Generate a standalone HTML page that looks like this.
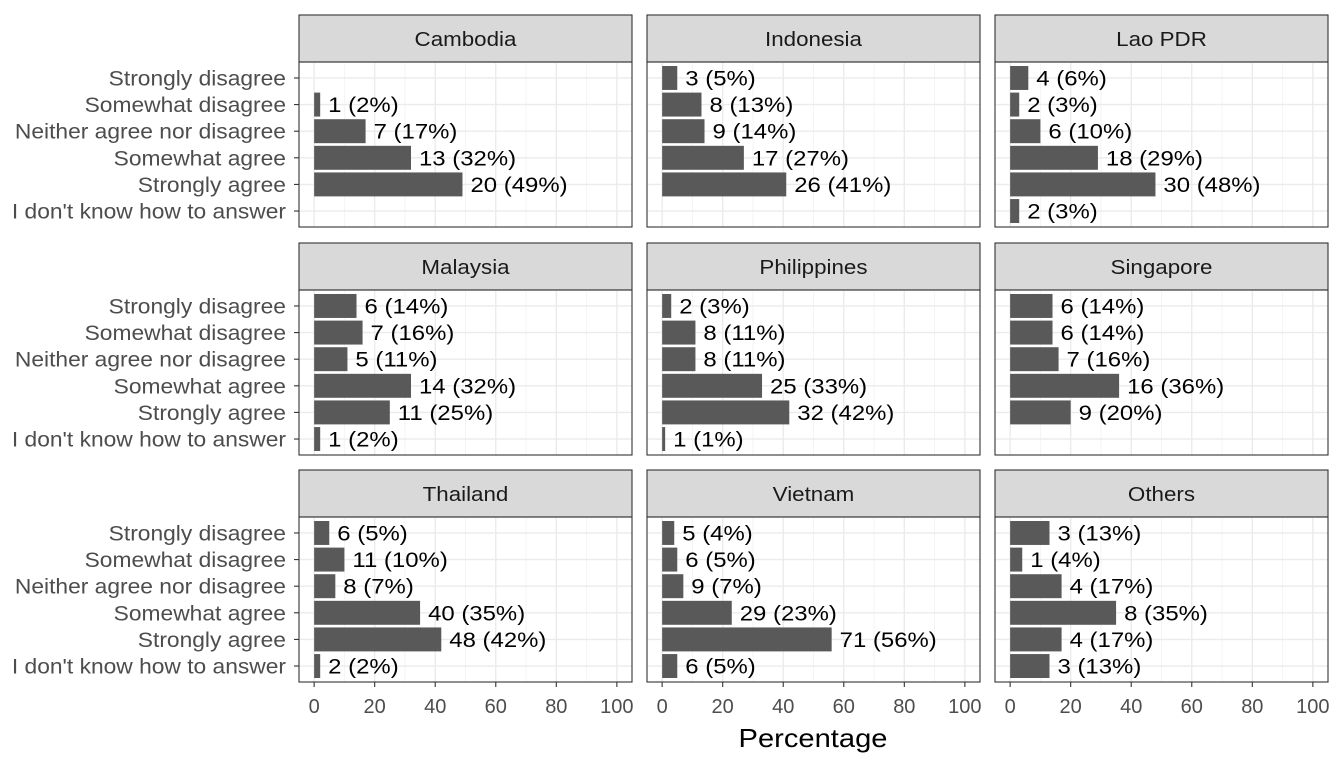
<!DOCTYPE html>
<html><head><meta charset="utf-8"><style>
html,body{margin:0;padding:0;background:#fff;}
svg{display:block;font-family:"Liberation Sans",Arial,sans-serif;}
</style></head><body>
<svg id="chart" width="1344" height="768" viewBox="0 0 1344 768"></svg>
<script>
const categories = ["Strongly disagree","Somewhat disagree","Neither agree nor disagree","Somewhat agree","Strongly agree","I don't know how to answer"];
const countries = ["Cambodia","Indonesia","Lao PDR","Malaysia","Philippines","Singapore","Thailand","Vietnam","Others"];
const counts = [
 [null,1,7,13,20,null],
 [3,8,9,17,26,null],
 [4,2,6,18,30,2],
 [6,7,5,14,11,1],
 [2,8,8,25,32,1],
 [6,6,7,16,9,null],
 [6,11,8,40,48,2],
 [5,6,9,29,71,6],
 [3,1,4,8,4,3]
];
const percents = [
 [null,2,17,32,49,null],
 [5,13,14,27,41,null],
 [6,3,10,29,48,3],
 [14,16,11,32,25,2],
 [3,11,11,33,42,1],
 [14,14,16,36,20,null],
 [5,10,7,35,42,2],
 [4,5,7,23,56,5],
 [13,4,17,35,17,13]
];
const xTicks = [0,20,40,60,80,100];
const xMinor = [10,30,50,70,90];

const svg = document.getElementById('chart');
const NS = 'http://www.w3.org/2000/svg';
function mk(tag, attrs, parent){const e=document.createElementNS(NS,tag);for(const k in attrs)e.setAttribute(k,attrs[k]);(parent||svg).appendChild(e);return e;}
function stretch(t, f){const w=t.getComputedTextLength();t.setAttribute('textLength',(w*f).toFixed(1));t.setAttribute('lengthAdjust','spacingAndGlyphs');}

const colX = [299,647,995], panelW = 333;
const stripTop = [15,243,470], stripH = 47, bodyH = 165;
const xMin = -5, xMax = 105;

for (let p=0;p<9;p++){
  const c=p%3, r=Math.floor(p/3);
  const x0=colX[c], sy=stripTop[r], by=sy+stripH;
  const xs = v => x0 + (v - xMin)/(xMax-xMin)*panelW;
  const step = bodyH/6.2;
  const ys = i => by + step*(0.6+i);
  const g = mk('g',{});
  
  
  const st = mk('rect',{x:x0,y:sy,width:panelW,height:stripH,fill:'#d9d9d9',stroke:'#333','stroke-width':1.1},g);
  
  
  const stt = mk('text',{x:x0+panelW/2,y:sy+31,'text-anchor':'middle','font-size':20.5,fill:'#1a1a1a'},g);
  stt.textContent = countries[p];
  
  
  stretch(stt,1.09);
  xMinor.forEach(v=>mk('line',{x1:xs(v),x2:xs(v),y1:by,y2:by+bodyH,stroke:'#f4f4f4','stroke-width':1},g));
  xTicks.forEach(v=>mk('line',{x1:xs(v),x2:xs(v),y1:by,y2:by+bodyH,stroke:'#ebebeb','stroke-width':1.4},g));
  categories.forEach((cat,i)=>mk('line',{x1:x0,x2:x0+panelW,y1:ys(i),y2:ys(i),stroke:'#ebebeb','stroke-width':1.4},g));
  categories.forEach((cat,i)=>{
    const v = percents[p][i];
    if (v===null) return;
    const b = mk('rect',{x:xs(0),y:ys(i)-step*0.45,width:xs(v)-xs(0),height:step*0.9,fill:'#595959'},g);
    
    
    const t = mk('text',{x:xs(v)+8,y:ys(i)+7.5,'font-size':21,fill:'#000'},g);
    t.textContent = counts[p][i]+' ('+v+'%)';
    
    
    stretch(t,1.14);
  });
  mk('rect',{x:x0,y:by,width:panelW,height:bodyH,fill:'none',stroke:'#333','stroke-width':1.1},g);
  if (c===0){
    categories.forEach((cat,i)=>{
      mk('line',{x1:x0-5,x2:x0,y1:ys(i),y2:ys(i),stroke:'#333','stroke-width':1.1},g);
      const t = mk('text',{x:x0-13,y:ys(i)+7.5,'text-anchor':'end','font-size':21,fill:'#4d4d4d'},g);
      t.textContent = cat;
      
      
      stretch(t,1.085);
    });
  }
  if (r===2){
    xTicks.forEach(v=>{
      mk('line',{x1:xs(v),x2:xs(v),y1:by+bodyH,y2:by+bodyH+5,stroke:'#333','stroke-width':1.1},g);
      const t = mk('text',{x:xs(v),y:by+bodyH+31,'text-anchor':'middle','font-size':20,fill:'#4d4d4d'},g);
      t.textContent = v;
      
      
    });
  }
}
const xt = mk('text',{x:813,y:747,'text-anchor':'middle','font-size':26,fill:'#000'});
xt.textContent='Percentage';


stretch(xt,1.12);
</script>
</body></html>
